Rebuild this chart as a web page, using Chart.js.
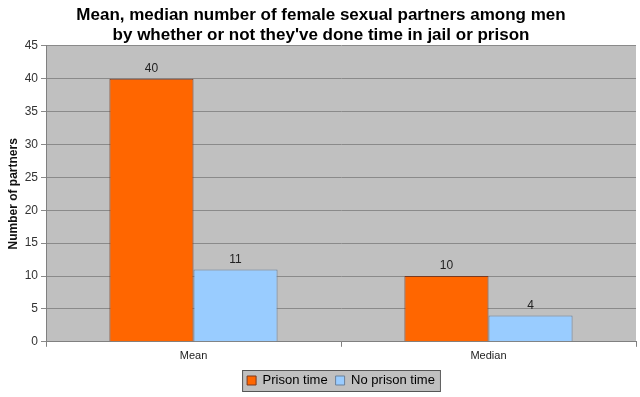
<!DOCTYPE html>
<html lang="en">
<head>
  <meta charset="UTF-8">
  <title>Sexual partners by prison time</title>
  <script src="https://cdn.jsdelivr.net/npm/chart.js"></script>
  <style>
    body, html { margin: 0; padding: 0; overflow: hidden; background: #fff; }
    #wrap { width: 640px; height: 397px; }
  </style>
</head>
<body>
  <div id="wrap"><canvas id="chart"></canvas></div>
  <script>
    const categories = ['Mean', 'Median'];
    const prisonTime = [40, 10];
    const noPrisonTime = [11, 4];
    const titleLines = [
      'Mean, median number of female sexual partners among men',
      "by whether or not they've done time in jail or prison"
    ];

    // gray plot area + legend frame; legend centred under the plot area
    const backdrop = {
      id: 'backdrop',
      afterLayout(chart) {
        const lg = chart.legend;
        if (!lg) return;
        // legend plugin recomputes hit boxes in afterUpdate
        lg.left = chart.chartArea.left;
        lg.right = chart.chartArea.right;
      },
      beforeDraw(chart) {
        const { ctx, chartArea: a } = chart;
        ctx.save();
        ctx.fillStyle = '#c0c0c0';
        ctx.fillRect(a.left, a.top, a.right - a.left, a.bottom - a.top);
        const lg = chart.legend;
        if (lg && lg.legendHitBoxes.length) {
          const first = lg.legendHitBoxes[0];
          const last = lg.legendHitBoxes[lg.legendHitBoxes.length - 1];
          const x0 = first.left - 5, x1 = last.left + last.width + 5;
          const y0 = first.top - 4, y1 = first.top + first.height + 4;
          ctx.fillStyle = '#c0c0c0';
          ctx.fillRect(x0, y0, x1 - x0, y1 - y0);
          ctx.strokeStyle = '#555';
          ctx.lineWidth = 1;
          ctx.strokeRect(x0 + 0.5, y0 + 0.5, x1 - x0, y1 - y0);
        }
        ctx.restore();
      }
    };

    // value labels above bars
    const valueLabels = {
      id: 'valueLabels',
      afterDatasetsDraw(chart) {
        const { ctx } = chart;
        ctx.save();
        ctx.font = '12px Arial, "Liberation Sans", sans-serif';
        ctx.fillStyle = '#222';
        ctx.textAlign = 'center';
        ctx.textBaseline = 'bottom';
        chart.data.datasets.forEach((ds, i) => {
          chart.getDatasetMeta(i).data.forEach((bar, j) => {
            ctx.fillText(ds.data[j], bar.x, bar.y - 4);
          });
        });
        ctx.restore();
      }
    };

    new Chart(document.getElementById('chart'), {
      type: 'bar',
      data: {
        labels: categories,
        datasets: [
          {
            label: 'Prison time',
            data: prisonTime,
            backgroundColor: '#ff6600',
            borderColor: '#7a3a20',
            borderWidth: 1,
            barPercentage: 1,
            categoryPercentage: 0.57
          },
          {
            label: 'No prison time',
            data: noPrisonTime,
            backgroundColor: '#99ccff',
            borderColor: '#6a819a',
            borderWidth: 1,
            barPercentage: 1,
            categoryPercentage: 0.57
          }
        ]
      },
      options: {
        responsive: true,
        maintainAspectRatio: false,
        animation: false,
        layout: { padding: { top: 5, right: 4, left: 6, bottom: 0 } },
        scales: {
          x: {
            grid: { offset: true, drawOnChartArea: false, color: '#808080', tickLength: 5 },
            border: { color: '#808080' },
            ticks: { color: '#222', font: { size: 11, family: 'Arial, "Liberation Sans", sans-serif' } }
          },
          y: {
            min: 0,
            max: 45,
            ticks: { stepSize: 5, color: '#333', font: { size: 12, family: 'Arial, "Liberation Sans", sans-serif' } },
            grid: { color: '#8a8a8a', tickLength: 5 },
            border: { color: '#808080' },
            title: {
              display: true,
              text: 'Number of partners',
              color: '#111',
              font: { size: 12, weight: 'bold', family: 'Arial, "Liberation Sans", sans-serif' },
              padding: { top: 0, bottom: 2 }
            },
            afterFit(scale) { scale.width = 40; }
          }
        },
        plugins: {
          title: {
            display: true,
            text: titleLines,
            color: '#000',
            font: { size: 17, weight: 'bold', family: 'Arial, "Liberation Sans", sans-serif', lineHeight: 1.2 },
            padding: { top: 0, bottom: 0 }
          },
          legend: {
            position: 'bottom',
            labels: {
              color: '#000',
              boxWidth: 9,
              boxHeight: 9,
              padding: 8,
              font: { size: 13, family: 'Arial, "Liberation Sans", sans-serif' }
            }
          },
          tooltip: { enabled: false }
        }
      },
      plugins: [backdrop, valueLabels]
    });
  </script>
</body>
</html>
